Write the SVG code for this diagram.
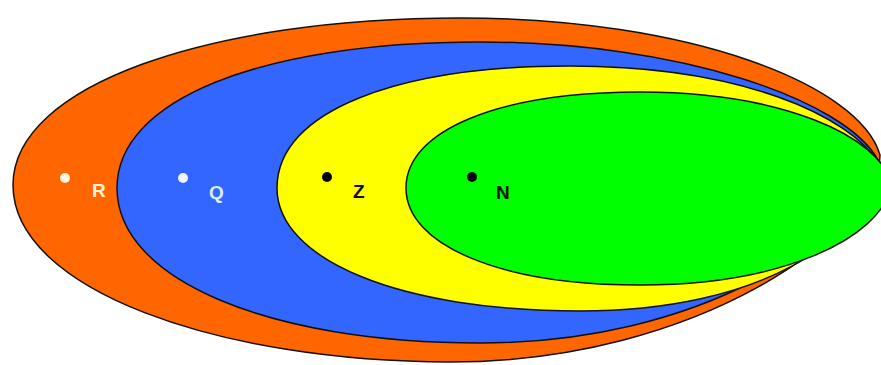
<svg xmlns="http://www.w3.org/2000/svg" width="881" height="365" viewBox="0 0 881 365">
<style>
.reg{stroke:#111;stroke-width:1.5}
.lbl{font-family:"Liberation Sans",Arial,sans-serif;font-weight:bold;font-size:19px}
</style>
<rect width="881" height="365" fill="#fff"/>
<g id="R">
<path class="reg" fill="#ff6600" d="M13,185 C13,85 210,18 460,18 C690,18 860,85 880,155 C880,230 700,362 450,362 C220,362 13,290 13,185 Z"/>
<circle cx="65" cy="178" r="5" fill="#fff4e6"/>
<text class="lbl" x="92" y="197" fill="#fff0dc">R</text>
</g>
<g id="Q">
<path class="reg" fill="#3366ff" d="M117,188 C117,100 260,42 480,42 C680,42 845,100 878,160 C855,240 700,343 480,343 C270,343 117,280 117,188 Z"/>
<circle cx="183" cy="178" r="5" fill="#eef4ff"/>
<text class="lbl" x="209" y="199" fill="#dcecff">Q</text>
</g>
<g id="Z">
<path class="reg" fill="#ffff00" d="M277,188 C277,110 400,66 570,66 C740,66 850,115 880,165 C865,240 760,311 580,311 C400,311 277,260 277,188 Z"/>
<circle cx="327" cy="177" r="5" fill="#000"/>
<text class="lbl" x="353" y="198" fill="#111">Z</text>
</g>
<g id="N">
<path class="reg" fill="#00ff00" d="M406,188 C406,130 500,92 640,92 C780,92 880,135 892,185 C880,240 780,285 640,285 C500,285 406,245 406,188 Z"/>
<circle cx="472" cy="177" r="5" fill="#000"/>
<text class="lbl" x="496" y="199" fill="#111">N</text>
</g>
<g id="connectors"/>
</svg>
